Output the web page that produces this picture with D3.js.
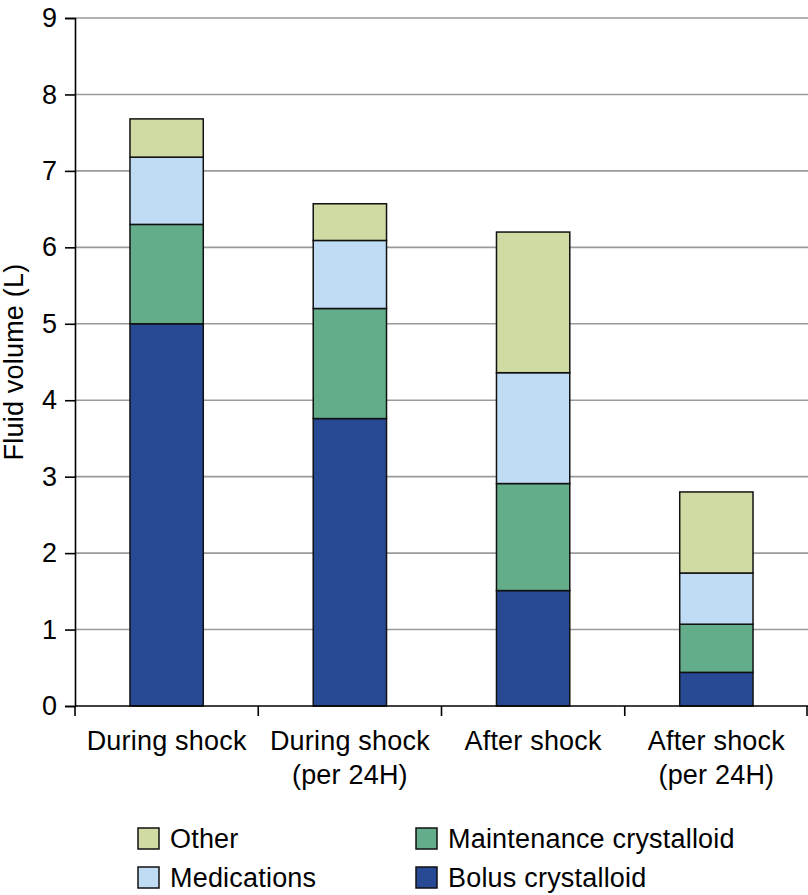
<!DOCTYPE html>
<html>
<head>
<meta charset="utf-8">
<script src="https://cdn.jsdelivr.net/npm/d3@7"></script>
<style>
  html, body { margin: 0; padding: 0; background: #fff; }
  svg { display: block; font-family: "Liberation Sans", Arial, Helvetica, sans-serif; }
</style>
</head>
<body>
<svg id="chart" width="808" height="895"></svg>
<script>
// ---- Data ----
const categories = ["During shock", "During shock\n(per 24H)", "After shock", "After shock\n(per 24H)"];
const seriesNames = ["Bolus crystalloid", "Maintenance crystalloid", "Medications", "Other"];
const bolus       = [5.00, 3.76, 1.51, 0.44];
const maintenance = [1.30, 1.44, 1.40, 0.63];
const medications = [0.88, 0.89, 1.45, 0.67];
const other       = [0.50, 0.48, 1.84, 1.06];
const yTicks = [0, 1, 2, 3, 4, 5, 6, 7, 8, 9];
const yLabel = "Fluid volume (L)";
const colors = ["#284a95", "#63ad8b", "#c0dcf5", "#cfdba3"];

const table = categories.map((c, i) => ({
  cat: c,
  "Bolus crystalloid": bolus[i],
  "Maintenance crystalloid": maintenance[i],
  "Medications": medications[i],
  "Other": other[i]
}));

// ---- Layout ----
const svg = d3.select("#chart");
const mLeft = 75, mRight = 808, mTop = 18, mBottom = 706;
const FS = 27;

const x = d3.scaleBand().domain(categories).range([mLeft, mRight]).paddingInner(0.6).paddingOuter(0.3);
const xCat = d3.scaleBand().domain(categories).range([mLeft, mRight]).padding(0);
const y = d3.scaleLinear().domain([0, 9]).range([mBottom, mTop]);
const color = d3.scaleOrdinal().domain(seriesNames).range(colors);

// gridlines
svg.append("g").selectAll("line").data(yTicks.filter(t => t > 0)).join("line")
  .attr("x1", mLeft).attr("x2", mRight)
  .attr("y1", d => y(d)).attr("y2", d => y(d))
  .attr("stroke", "#9a9a9a").attr("stroke-width", 1.6);

// stacked bars
const stack = d3.stack().keys(seriesNames)(table);
svg.append("g").selectAll("g").data(stack).join("g")
  .attr("fill", d => color(d.key))
  .selectAll("rect").data(d => d).join("rect")
  .attr("x", d => x(d.data.cat))
  .attr("width", x.bandwidth())
  .attr("y", d => y(d[1]))
  .attr("height", d => y(d[0]) - y(d[1]))
  .attr("stroke", "#111").attr("stroke-width", 1.5);

// y axis
const yAxis = d3.axisLeft(y).tickValues(yTicks).tickSize(10).tickPadding(8).tickFormat(d3.format("d"));
const gy = svg.append("g").attr("transform", `translate(${mLeft},0)`).call(yAxis);
gy.select(".domain").attr("stroke", "#000").attr("stroke-width", 1.6);
gy.selectAll(".tick line").attr("stroke", "#000").attr("stroke-width", 1.6);
gy.selectAll(".tick text").attr("font-size", FS).attr("fill", "#000")
  .attr("font-family", "Liberation Sans, Arial, sans-serif");

// x axis baseline + boundary ticks
svg.append("line").attr("x1", mLeft).attr("x2", mRight).attr("y1", y(0)).attr("y2", y(0))
  .attr("stroke", "#000").attr("stroke-width", 1.6);
const bounds = categories.map(c => xCat(c)).concat([xCat(categories[categories.length - 1]) + xCat.bandwidth()]);
svg.append("g").selectAll("line").data(bounds).join("line")
  .attr("x1", d => Math.min(d, mRight - 1)).attr("x2", d => Math.min(d, mRight - 1))
  .attr("y1", y(0)).attr("y2", y(0) + 10)
  .attr("stroke", "#000").attr("stroke-width", 1.6);

// category labels
const xl = svg.append("g").selectAll("text").data(categories).join("text")
  .attr("x", d => xCat(d) + xCat.bandwidth() / 2)
  .attr("y", 750)
  .attr("text-anchor", "middle")
  .attr("font-size", FS)
  .attr("letter-spacing", 0.2)
  .attr("fill", "#000");
xl.each(function(d) {
  const lines = d.split("\n");
  d3.select(this).selectAll("tspan").data(lines).join("tspan")
    .attr("x", xCat(d) + xCat.bandwidth() / 2)
    .attr("dy", (l, i) => i === 0 ? 0 : 34)
    .text(l => l);
});

// y label
svg.append("text")
  .attr("transform", `translate(23, ${(mTop + mBottom) / 2}) rotate(-90)`)
  .attr("text-anchor", "middle")
  .attr("font-size", FS)
  .attr("letter-spacing", 0.2)
  .attr("fill", "#000")
  .text(yLabel);

// legend
const legendItems = [
  { name: "Other", lx: 138, ly: 828 },
  { name: "Medications", lx: 138, ly: 867 },
  { name: "Maintenance crystalloid", lx: 416, ly: 828 },
  { name: "Bolus crystalloid", lx: 416, ly: 867 }
];
const lg = svg.append("g").selectAll("g").data(legendItems).join("g")
  .attr("transform", d => `translate(${d.lx},${d.ly})`);
lg.append("rect").attr("width", 21).attr("height", 21)
  .attr("fill", d => color(d.name)).attr("stroke", "#111").attr("stroke-width", 1.5);
lg.append("text").attr("x", 32).attr("y", 20)
  .attr("font-size", FS).attr("letter-spacing", 0.2).attr("fill", "#000")
  .text(d => d.name);
</script>
</body>
</html>
